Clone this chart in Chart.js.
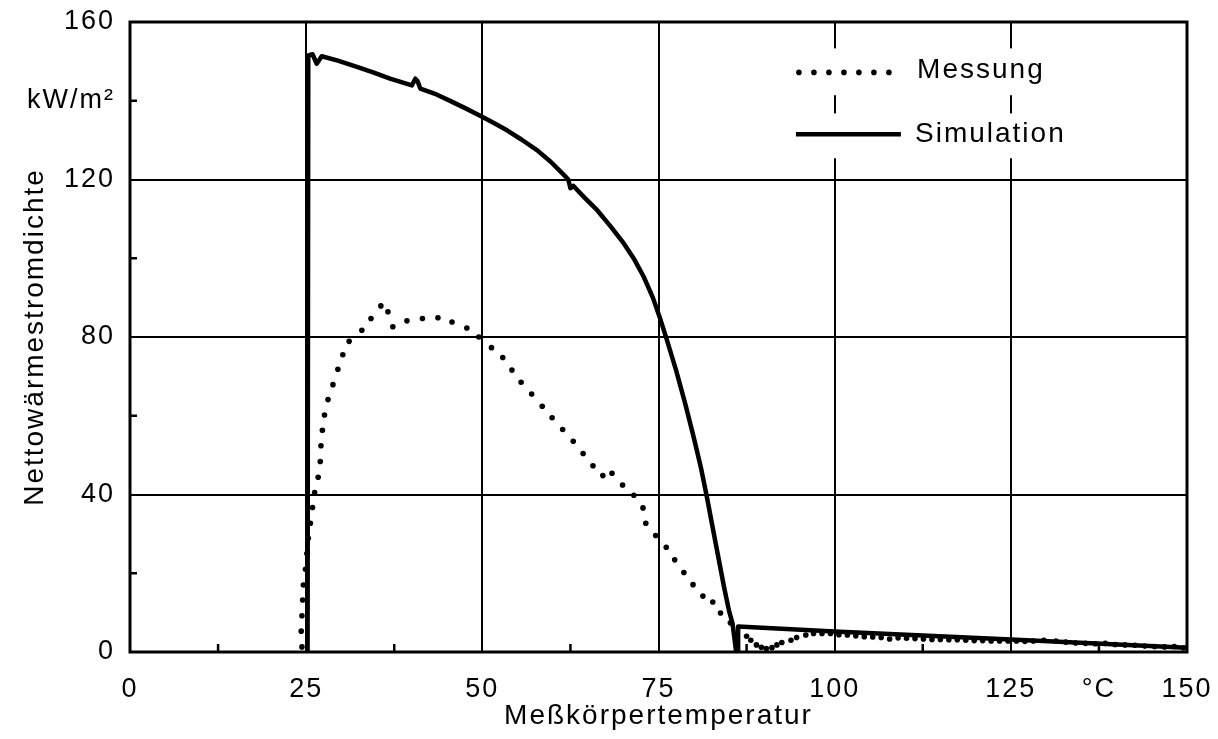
<!DOCTYPE html>
<html><head><meta charset="utf-8">
<script src="https://cdn.jsdelivr.net/npm/chart.js@4.4.0/dist/chart.umd.min.js"></script>
<style>html,body{margin:0;padding:0;background:#fff}#wrap{width:1218px;height:739px}</style>
</head><body><div id="wrap"><canvas id="c" width="1218" height="739"></canvas></div>
<script>
// ---- data ----
const messungX = [24.4,24.3,24.4,24.5,24.6,24.9,25.1,25.3,25.6,25.9,26.2,26.7,27.0,27.1,27.3,27.6,28.1,28.8,29.5,30.2,31.1,32.9,34.2,35.6,36.6,37.3,39.3,41.5,43.7,45.7,47.8,49.5,51.3,52.9,54.2,55.5,57.0,58.5,59.9,61.4,62.9,64.3,65.7,67.1,68.4,69.9,71.5,72.8,73.2,74.6,76.1,77.3,78.6,79.9,81.3,82.7,83.8,85.2,87.5,88.1,88.9,89.6,90.3,91.1,91.8,92.5,93.8,94.6,95.9,97.0,98.2,99.4,100.6,101.8,103.0,104.2,105.4,106.6,107.8,109.0,110.2,111.4,112.6,113.8,115.0,116.2,117.4,118.6,119.8,121.0,122.2,123.4,124.6,125.8,127.0,128.2,129.7,131.4,132.8,134.2,135.6,137.0,138.4,139.8,141.2,142.6,144.0,145.4,146.8,148.2,149.5];
const messungY = [1.3,5.3,9.2,13.2,17.0,21.0,25.0,28.9,32.7,36.7,40.5,44.4,48.4,52.4,56.3,60.2,64.1,67.9,71.8,75.5,78.9,81.7,84.7,87.9,86.4,82.6,84.1,84.7,84.9,83.8,82.3,80.0,77.3,74.8,71.6,68.5,65.5,62.4,59.5,56.5,53.5,50.4,47.3,44.8,45.4,42.4,39.8,36.6,32.7,29.6,26.6,23.4,20.2,17.1,14.2,12.7,9.9,7.4,4.0,3.0,1.8,1.2,0.9,1.1,1.8,2.4,3.0,3.7,4.3,4.7,4.7,4.7,4.4,4.3,4.1,3.9,3.8,3.7,3.3,3.6,3.5,3.4,3.3,3.2,3.2,3.1,3.1,3.0,2.9,2.9,2.8,2.8,2.8,2.8,2.7,2.8,3.0,2.8,2.5,2.3,2.2,2.1,2.2,1.9,1.8,1.7,1.5,1.4,1.3,1.4,1.0];
const simX = [25.2,25.3,25.9,26.5,27.2,29.5,32.2,34.5,36.9,40.0,40.5,40.8,41.2,43.5,45.5,47.7,49.9,51.7,53.5,55.6,57.8,59.7,61.6,62.2,62.5,62.9,64.5,66.3,68.2,70.1,71.6,72.9,74.2,75.3,75.8,76.2,77.5,78.8,80.0,81.0,81.8,82.7,83.5,84.3,85.0,85.5,86.0,86.3,86.3,100,125,150];
const simY = [0,151.5,151.8,149.4,151.3,150.2,148.6,147.2,145.6,143.9,145.6,145.0,143.1,141.6,139.9,138.0,136.0,134.3,132.5,130.1,127.4,124.5,121.1,120.0,117.8,118.4,115.4,112.2,108.1,103.7,99.6,95.3,90.0,84.3,81.5,79.2,71.5,63.0,54.5,47.0,40.0,31.5,24.0,16.5,10.5,7.3,0.3,0.3,6.5,5.2,3.2,1.1];
const xTickValues = [0,12.5,25,37.5,50,62.5,75,87.5,100,112.5,125,137.5,150];
const xTickLabels = ['0','','25','','50','','75','','100','','125','°C','150'];
const yTickValues = [0,20,40,60,80,100,120,140,160];
const yTickLabels = ['0','','40','','80','','120','kW/m²','160'];
const xMajor = [25,50,75,100,125];
const yMajor = [40,80,120];
const seriesNames = ['Messung','Simulation'];
const xTitle = 'Meßkörpertemperatur';
const yTitle = 'Nettowärmestromdichte';

const FONT = "'Liberation Sans', Arial, sans-serif";
const SPACING = '2px';

const spacing = {
  id: 'spacing',
  beforeUpdate(chart) { chart.ctx.letterSpacing = SPACING; },
  beforeDraw(chart) { chart.ctx.letterSpacing = SPACING; }
};

const decor = {
  id: 'decor',
  afterDatasetsDraw(chart) {
    const {ctx, chartArea: a, scales: {x, y}} = chart;
    ctx.save();
    ctx.strokeStyle = '#000'; ctx.lineWidth = 2.5;
    xTickValues.forEach(v => {
      if (v > 0 && v < 150 && !xMajor.includes(v)) {
        const px = x.getPixelForValue(v);
        ctx.beginPath(); ctx.moveTo(px, a.bottom); ctx.lineTo(px, a.bottom - 8); ctx.stroke();
      }
    });
    yTickValues.forEach(v => {
      if (v > 0 && v < 160 && !yMajor.includes(v)) {
        const py = y.getPixelForValue(v);
        ctx.beginPath(); ctx.moveTo(a.left, py); ctx.lineTo(a.left + 7, py); ctx.stroke();
      }
    });
    // legend
    const lx0 = x.getPixelForValue(94.5);
    const r1 = y.getPixelForValue(147.2), r2 = y.getPixelForValue(131.5);
    ctx.fillStyle = '#fff';
    ctx.fillRect(lx0 - 6, y.getPixelForValue(153.3), 280, y.getPixelForValue(141.4) - y.getPixelForValue(153.3));
    ctx.fillRect(lx0 - 6, y.getPixelForValue(136.8), 280, y.getPixelForValue(125.4) - y.getPixelForValue(136.8));
    ctx.fillStyle = '#000';
    for (let i = 0; i < 7; i++) {
      ctx.beginPath(); ctx.arc(lx0 + 3 + i * 15, r1, 2.8, 0, Math.PI * 2); ctx.fill();
    }
    ctx.lineWidth = 4.5;
    ctx.beginPath(); ctx.moveTo(lx0, r2); ctx.lineTo(lx0 + 105, r2); ctx.stroke();
    ctx.font = '28px ' + FONT;
    ctx.textBaseline = 'middle'; ctx.textAlign = 'left';
    ctx.fillText(seriesNames[0], x.getPixelForValue(111.7), r1 - 2);
    ctx.fillText(seriesNames[1], x.getPixelForValue(111.4), r2);
    ctx.lineWidth = 3;
    ctx.strokeRect(a.left, a.top, a.right - a.left, a.bottom - a.top);
    ctx.restore();
  }
};

new Chart(document.getElementById('c'), {
  type: 'scatter',
  data: {
    datasets: [
      { label: seriesNames[0], data: messungX.map((v, i) => ({x: v, y: messungY[i]})),
        showLine: false, pointRadius: 2.8, pointBackgroundColor: '#000', pointBorderWidth: 0, pointHoverRadius: 2.8 },
      { label: seriesNames[1], data: simX.map((v, i) => ({x: v, y: simY[i]})),
        showLine: true, borderColor: '#000', borderWidth: 4.5, pointRadius: 0, tension: 0,
        borderJoinStyle: 'round', borderCapStyle: 'round' }
    ]
  },
  options: {
    responsive: false, animation: false, devicePixelRatio: 1,
    layout: { padding: { top: 22, right: 31, left: 0, bottom: 0 } },
    plugins: { legend: { display: false }, tooltip: { enabled: false } },
    scales: {
      x: {
        type: 'linear', min: 0, max: 150,
        afterBuildTicks: s => { s.ticks = xTickValues.map(v => ({value: v})); },
        afterFit: s => { s.height = 87; s.paddingLeft = 0; s.paddingRight = 0; },
        ticks: { autoSkip: false, maxRotation: 0, padding: 21, color: '#000',
          font: { family: FONT, size: 27 },
          callback: v => { const i = xTickValues.indexOf(v); return i >= 0 ? xTickLabels[i] : ''; } },
        grid: { drawTicks: false, lineWidth: 2,
          color: c => (c.tick && xMajor.includes(c.tick.value)) ? '#000' : 'rgba(0,0,0,0)' },
        border: { display: false },
        title: { display: true, text: xTitle, color: '#000', font: { family: FONT, size: 28 }, padding: { top: 0, bottom: 6 } }
      },
      y: {
        type: 'linear', min: 0, max: 160,
        afterBuildTicks: s => { s.ticks = yTickValues.map(v => ({value: v})); },
        afterFit: s => { s.width = 130; s.paddingTop = 0; s.paddingBottom = 0; },
        ticks: { autoSkip: false, padding: 15, color: '#000',
          font: { family: FONT, size: 27 },
          callback: v => { const i = yTickValues.indexOf(v); return i >= 0 ? yTickLabels[i] : ''; } },
        grid: { drawTicks: false, lineWidth: 2,
          color: c => (c.tick && yMajor.includes(c.tick.value)) ? '#000' : 'rgba(0,0,0,0)' },
        border: { display: false },
        title: { display: true, text: yTitle, color: '#000', font: { family: FONT, size: 28 }, padding: { top: 18, bottom: 0 } }
      }
    }
  },
  plugins: [spacing, decor]
});
</script></body></html>
